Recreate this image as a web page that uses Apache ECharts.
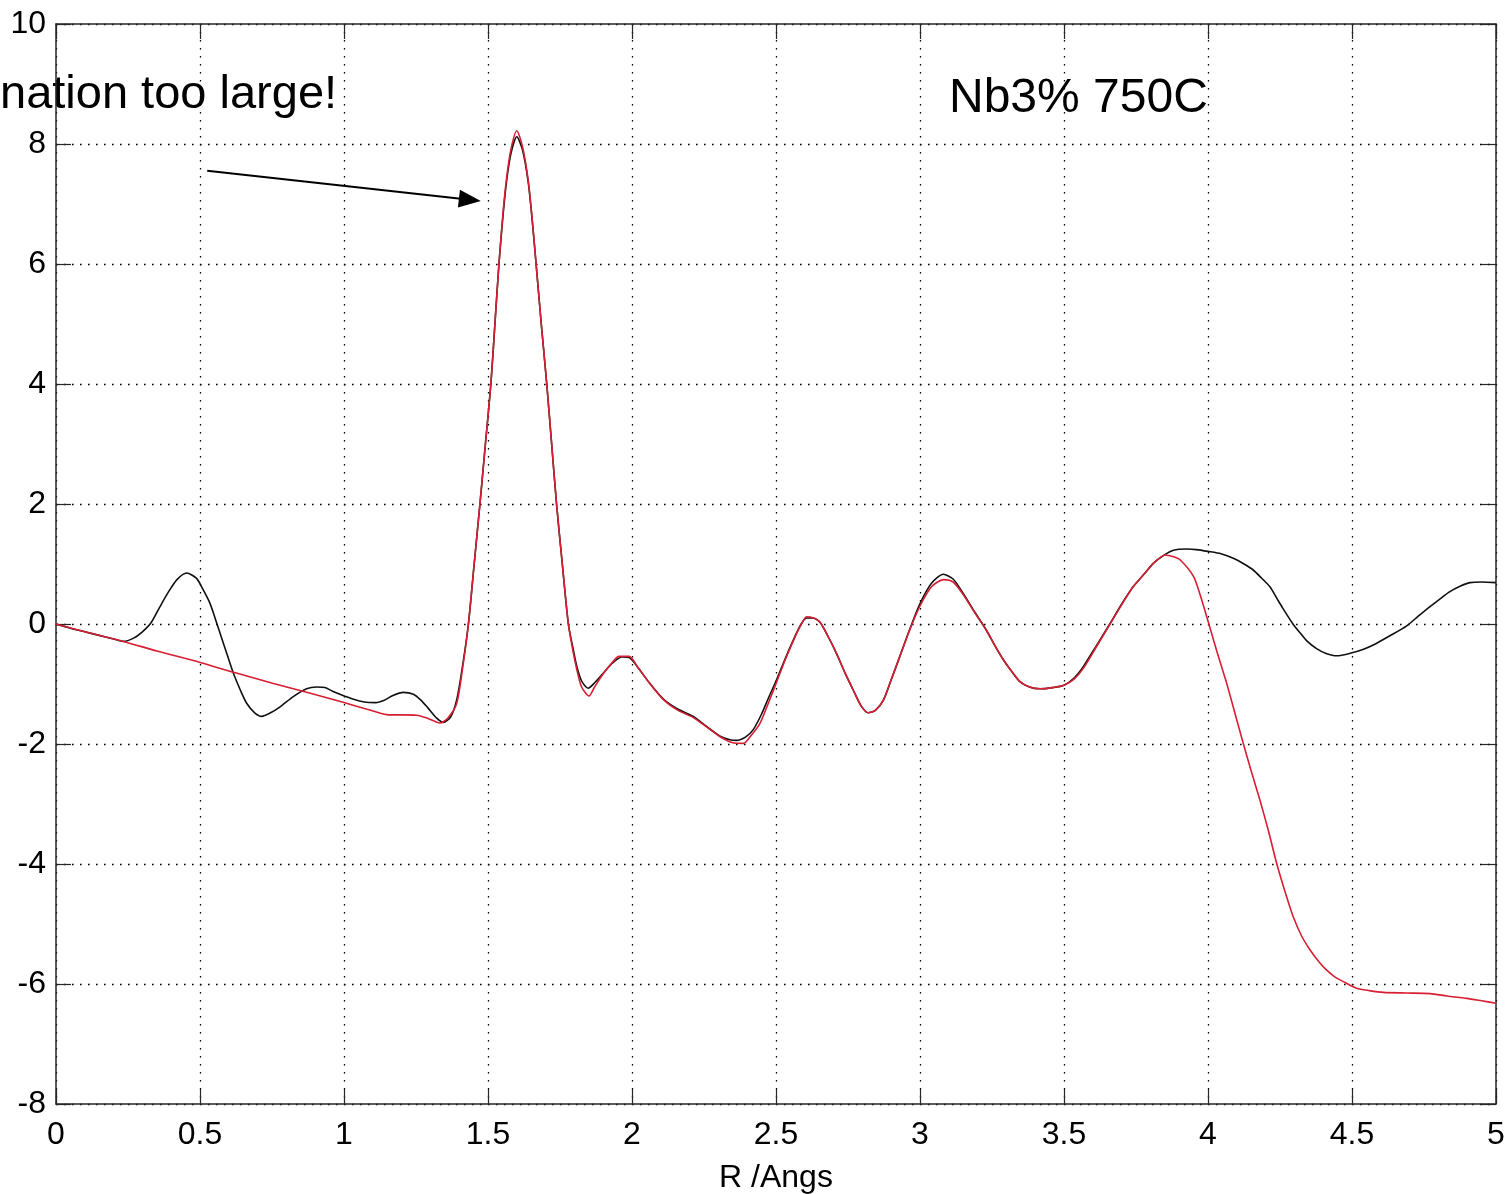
<!DOCTYPE html>
<html>
<head>
<meta charset="utf-8">
<title>Nb3% 750C</title>
<script src="https://cdn.jsdelivr.net/npm/echarts@6/dist/echarts.min.js"></script>
<style>
  html, body { margin: 0; padding: 0; background: #fff; }
  #chart { width: 1507px; height: 1194px; }
</style>
</head>
<body>
<div id="chart"></div>
<script>
// Measured data: R (Angstrom) and magnitude
const dataR = [
  0.00, 0.05, 0.10, 0.15, 0.20, 0.234, 0.268, 0.30, 0.33, 0.36, 0.39, 0.42, 0.454, 0.488, 0.51, 0.535,
  0.555, 0.57, 0.595, 0.616, 0.64, 0.662, 0.69, 0.714, 0.745, 0.778, 0.824, 0.87, 0.905, 0.934, 0.96,
  0.99, 1.03, 1.07, 1.11, 1.14, 1.17, 1.206, 1.241, 1.265, 1.29, 1.322, 1.345, 1.37, 1.391, 1.41,
  1.432, 1.452, 1.472, 1.491, 1.51, 1.524, 1.538, 1.552, 1.565, 1.58, 1.60, 1.62, 1.64, 1.654, 1.667,
  1.685, 1.704, 1.721, 1.738, 1.758, 1.779, 1.795, 1.808, 1.825, 1.848, 1.87, 1.90, 1.93, 1.965, 1.99,
  2.02, 2.06, 2.109, 2.16, 2.213, 2.26, 2.306, 2.34, 2.363, 2.395, 2.421, 2.45, 2.475, 2.502, 2.53,
  2.56, 2.585, 2.606, 2.63, 2.653, 2.68, 2.71, 2.74, 2.768, 2.795, 2.82, 2.845, 2.873, 2.90, 2.93,
  2.965, 3.00, 3.04, 3.081, 3.115, 3.15, 3.19, 3.23, 3.26, 3.29, 3.32, 3.347, 3.38, 3.417, 3.46, 3.50,
  3.535, 3.567, 3.61, 3.66, 3.70, 3.74, 3.78, 3.81, 3.845, 3.88, 3.926, 3.96, 4.00, 4.045, 4.09, 4.125,
  4.157, 4.185, 4.215, 4.24, 4.26, 4.295, 4.32, 4.343, 4.377, 4.41, 4.447, 4.50, 4.54, 4.574, 4.63,
  4.69, 4.73, 4.771, 4.806, 4.84, 4.875, 4.91, 4.95, 5.00
];
const dataV = [
  0.00, -0.07, -0.13, -0.19, -0.25, -0.29, -0.24, -0.13, 0.02, 0.28, 0.53, 0.74, 0.85, 0.76, 0.58, 0.34,
  0.06, -0.16, -0.52, -0.82, -1.10, -1.32, -1.48, -1.54, -1.48, -1.38, -1.21, -1.08, -1.05, -1.06, -1.12,
  -1.18, -1.25, -1.30, -1.31, -1.27, -1.19, -1.14, -1.17, -1.26, -1.39, -1.57, -1.64, -1.55, -1.27, -0.75,
  0.00, 1.00, 2.00, 3.00, 4.00, 5.00, 6.00, 6.80, 7.40, 7.85, 8.12, 7.90, 7.35, 6.70, 6.00,
  5.00, 4.00, 3.00, 2.00, 1.00, 0.00, -0.40, -0.70, -0.95, -1.07, -0.98, -0.82, -0.66, -0.55, -0.56,
  -0.72, -0.98, -1.25, -1.42, -1.54, -1.71, -1.87, -1.93, -1.94, -1.88, -1.76, -1.50, -1.22, -0.93, -0.60,
  -0.27, -0.02, 0.10, 0.10, 0.03, -0.20, -0.49, -0.82, -1.10, -1.36, -1.48, -1.44, -1.27, -0.93, -0.54,
  -0.08, 0.34, 0.68, 0.83, 0.75, 0.51, 0.20, -0.10, -0.36, -0.60, -0.80, -0.96, -1.05, -1.08, -1.06, -1.02,
  -0.90, -0.71, -0.38, 0.01, 0.33, 0.62, 0.84, 1.01, 1.14, 1.23, 1.25, 1.24, 1.21, 1.17, 1.09, 1.00,
  0.90, 0.77, 0.62, 0.42, 0.26, 0.00, -0.15, -0.28, -0.41, -0.49, -0.53, -0.48, -0.42, -0.35, -0.20,
  -0.03, 0.13, 0.29, 0.42, 0.54, 0.63, 0.69, 0.70, 0.69
];

// Fitted model
const fitR = [
  0.00, 0.10, 0.234, 0.35, 0.50, 0.62, 0.755, 0.88, 1.00, 1.08, 1.148, 1.252, 1.29, 1.333, 1.36, 1.391,
  1.41, 1.432, 1.452, 1.472, 1.491, 1.51, 1.524, 1.538, 1.552, 1.565, 1.58, 1.60, 1.62, 1.64, 1.654,
  1.667, 1.685, 1.704, 1.721, 1.738, 1.758, 1.779, 1.795, 1.808, 1.825, 1.851, 1.87, 1.90, 1.93, 1.955,
  1.99, 2.02, 2.06, 2.109, 2.16, 2.213, 2.26, 2.306, 2.35, 2.387, 2.415, 2.444, 2.475, 2.502, 2.53,
  2.56, 2.585, 2.606, 2.63, 2.653, 2.68, 2.71, 2.74, 2.768, 2.795, 2.82, 2.845, 2.873, 2.90, 2.93,
  2.965, 3.00, 3.04, 3.081, 3.115, 3.15, 3.19, 3.23, 3.26, 3.29, 3.32, 3.347, 3.38, 3.417, 3.46, 3.50,
  3.535, 3.567, 3.61, 3.66, 3.70, 3.74, 3.78, 3.81, 3.851, 3.88, 3.903, 3.95, 3.975, 4.00, 4.02, 4.04,
  4.065, 4.10, 4.123, 4.15, 4.18, 4.21, 4.239, 4.27, 4.296, 4.325, 4.354, 4.385, 4.412, 4.44, 4.47,
  4.516, 4.56, 4.609, 4.69, 4.771, 4.83, 4.898, 4.95, 5.00
];
const fitV = [
  0.00, -0.13, -0.29, -0.45, -0.64, -0.81, -0.99, -1.15, -1.31, -1.42, -1.51, -1.52, -1.57, -1.65, -1.57, -1.33,
  -0.80, 0.00, 1.00, 2.00, 3.00, 4.00, 5.00, 6.00, 6.85, 7.45, 7.92, 8.22, 7.95, 7.38, 6.72,
  6.00, 5.00, 4.00, 3.00, 2.00, 1.00, 0.00, -0.45, -0.75, -1.05, -1.20, -1.05, -0.83, -0.65, -0.54,
  -0.54, -0.72, -0.98, -1.26, -1.44, -1.56, -1.72, -1.88, -1.98, -1.99, -1.85, -1.66, -1.30, -0.97, -0.62,
  -0.28, -0.03, 0.12, 0.10, 0.03, -0.20, -0.49, -0.82, -1.10, -1.36, -1.48, -1.44, -1.27, -0.93, -0.54,
  -0.09, 0.30, 0.62, 0.74, 0.70, 0.49, 0.19, -0.10, -0.36, -0.60, -0.80, -0.96, -1.05, -1.08, -1.06, -1.02,
  -0.92, -0.74, -0.40, 0.00, 0.32, 0.62, 0.84, 1.01, 1.15, 1.12, 1.07, 0.79, 0.45, 0.05, -0.28, -0.60,
  -0.99, -1.60, -2.00, -2.45, -2.93, -3.45, -4.00, -4.50, -4.88, -5.20, -5.43, -5.63, -5.77, -5.88, -5.96,
  -6.07, -6.11, -6.14, -6.15, -6.16, -6.20, -6.24, -6.28, -6.32
];

// Axis ranges and tick spacing
const xRange = [0, 5];
const xStep = 0.5;
const yRange = [-8, 10];
const yStep = 2;

// Annotation texts and arrow end points (data coordinates)
const noteText = 'nation too large!';
const titleText = 'Nb3% 750C';
const arrowFrom = [0.525, 7.555];
const arrowTo = [1.437, 7.07];

const zip = (xs, ys) => xs.map((x, i) => [x, ys[i]]);

const FONT = "'Liberation Sans', Arial, Helvetica, sans-serif";
const frame = '#262626';
const dotted = { color: '#000', width: 1.3, type: [1.6, 6.4] };

function boxAxis(base, extra) {
  return Object.assign({
    type: 'value',
    min: base[0], max: base[1], interval: base[2],
    axisLine: { show: true, onZero: false, lineStyle: { color: frame, width: 1.5 } },
    axisTick: { show: true, inside: true, length: 15, lineStyle: { color: frame, width: 1.2 } },
    splitLine: { show: false },
    axisLabel: { show: false }
  }, extra);
}

const chart = echarts.init(document.getElementById('chart'), null, { renderer: 'canvas' });

chart.setOption({
  animation: false,
  backgroundColor: '#fff',
  grid: {
    left: 56, top: 24, width: 1440, height: 1080,
    containLabel: false,
    outerBoundsMode: 'none'
  },
  xAxis: [
    boxAxis([xRange[0], xRange[1], xStep], {
      position: 'bottom',
      name: 'R /Angs',
      nameLocation: 'middle',
      nameGap: 58,
      nameTextStyle: { fontFamily: FONT, fontSize: 32, color: '#000' },
      splitLine: { show: true, lineStyle: dotted },
      axisLabel: {
        show: true, fontFamily: FONT, fontSize: 32, color: '#000', margin: 15,
        showMinLabel: true, showMaxLabel: true
      }
    }),
    boxAxis([xRange[0], xRange[1], xStep], { position: 'top' })
  ],
  yAxis: [
    boxAxis([yRange[0], yRange[1], yStep], {
      position: 'left',
      splitLine: { show: true, lineStyle: dotted },
      axisLabel: {
        show: true, fontFamily: FONT, fontSize: 32, color: '#000', margin: 10,
        showMinLabel: true, showMaxLabel: true
      }
    }),
    boxAxis([yRange[0], yRange[1], yStep], { position: 'right' })
  ],
  series: [
    {
      name: 'data',
      type: 'line',
      data: zip(dataR, dataV),
      showSymbol: false,
      smooth: 0.25,
      lineStyle: { color: '#111', width: 1.6 },
      z: 3,
      markLine: {
        silent: true,
        animation: false,
        label: { show: false },
        symbol: ['none', 'triangle'],
        symbolSize: [18, 22],
        lineStyle: { color: '#000', width: 2, type: 'solid' },
        itemStyle: { color: '#000' },
        data: [[{ coord: arrowFrom }, { coord: arrowTo }]]
      }
    },
    {
      name: 'fit',
      type: 'line',
      data: zip(fitR, fitV),
      showSymbol: false,
      smooth: 0.25,
      lineStyle: { color: '#d81e32', width: 1.6 },
      z: 4
    }
  ],
  graphic: [
    {
      type: 'text', left: 0, top: 72,
      style: { text: noteText, font: '47px ' + FONT, fill: '#000' }
    },
    {
      type: 'text', left: 949, top: 75,
      style: { text: titleText, font: '48px ' + FONT, fill: '#000' }
    }
  ]
});
</script>
</body>
</html>
